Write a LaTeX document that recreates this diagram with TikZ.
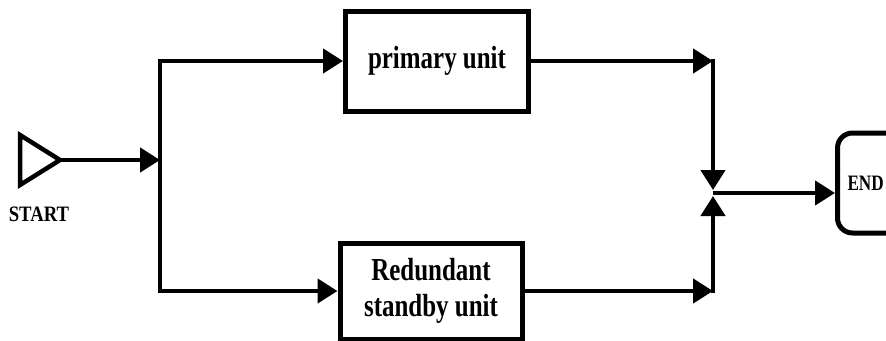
\documentclass[tikz,border=0pt]{standalone}
\usepackage{fontspec}
\setmainfont{Liberation Serif}[FakeStretch=0.85]
\newfontfamily\unitfont{Liberation Serif}[FakeStretch=0.78]
\usetikzlibrary{arrows.meta}
\tikzset{
  wire/.style={line width=4.5pt},
  flow/.style={wire, -{Triangle[length=20pt,width=24pt]}},
  unitbox/.style={draw, line width=5pt, fill=white, align=center,
    font=\unitfont\bfseries\fontsize{32}{36}\selectfont},
  endbox/.style={draw, line width=5pt, rounded corners=15pt, align=left,
    anchor=west, minimum height=100pt, inner xsep=10pt, text width=70pt,
    font=\unitfont\bfseries\fontsize{22}{24}\selectfont},
  tag/.style={font=\bfseries\fontsize{22}{24}\selectfont},
}
\begin{document}
\begin{tikzpicture}[x=1pt,y=-1pt]
  \clip (0,0) rectangle (886,340);
  \useasboundingbox (0,0) rectangle (886,340);

  % start marker
  \coordinate (tip) at (60,160);
  \draw[line width=4.5pt, line join=miter] (20,135) -- (tip) -- (20,185) -- cycle;
  \node[tag] (startlbl) at (39,214) {START};

  % branching point and the two parallel paths
  \coordinate (split) at (160,160);
  \coordinate (top) at (160,61);
  \coordinate (bot) at (160,291);

  \node[unitbox, minimum width=183pt, minimum height=100pt] (primary) at (437,61) {primary unit};
  \node[unitbox, minimum width=182pt, minimum height=96pt] (standby) at (431,291) {Redundant\\standby unit};

  \node[endbox] (finish) at (835,183) {END};

  \coordinate (c1) at (713,61);
  \coordinate (c2) at (713,291);
  \coordinate (j1) at (713,190);
  \coordinate (j2) at (713,196);
  \coordinate (jm) at (713,193);

  \draw[flow] (tip) -- (split);
  \draw[wire, line cap=rect] (top) -- (bot);
  \draw[flow] (top) -- (primary.west);
  \draw[flow] (bot) -- (standby.west);

  \draw[flow] (primary.east) -- (c1);
  \draw[flow] ([yshift=2pt]c1) -- (j1);
  \draw[flow] (standby.east) -- (c2);
  \draw[flow] ([yshift=-2pt]c2) -- (j2);
  \draw[flow] (jm) -- (finish.west |- jm);
\end{tikzpicture}
\end{document}
